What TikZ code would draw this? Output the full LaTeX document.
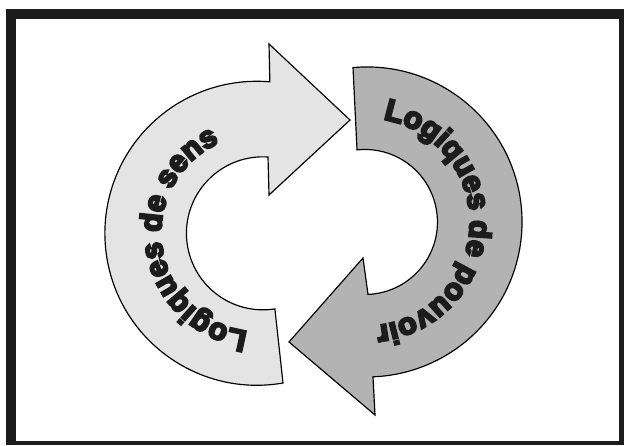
\documentclass[tikz,border=0pt]{standalone}
\usepackage{fontspec}
\newfontfamily\wordart{Liberation Sans}[BoldFeatures={FakeBold=7}]
\usepackage{tikz}
\usetikzlibrary{decorations.text}
\definecolor{frameink}{HTML}{1C1C1C}
\definecolor{sensfill}{HTML}{E4E4E4}
\definecolor{pouvoirfill}{HTML}{B3B3B3}

\begin{document}
\begin{tikzpicture}[x=0.03cm,y=0.03cm,
  arrowband/.style={draw=black,line width=1pt,line join=miter},
  bandtext/.style={decorate,decoration={text along path,
    text align=center,text color=frameink,
    text={|\wordart\bfseries\fontsize{26}{26}\selectfont|#1}}}]

  \useasboundingbox (0,0) rectangle (624,445);

  % frame
  \fill[frameink] (6,0) rectangle (624,436);
  \fill[white] (16,4) rectangle (619,426);

  % left arrow, pointing right at the top
  \draw[arrowband,fill=sensfill] (283,62)
    arc[start angle=279.9,end angle=85.1,radius=152]
    -- (269,401) -- (350,325) -- (269,250) -- (268,288)
    arc[start angle=86.2,end angle=279,radius=76.5] -- cycle;

  % right arrow, pointing left at the bottom
  \draw[arrowband,fill=pouvoirfill] (353,377.4)
    arc[start angle=95.2,end angle=-87.8,radius=155]
    -- (375,30) -- (289,103) -- (363,187) -- (368,150.6)
    arc[start angle=-87.6,end angle=96.3,radius=72.5] -- cycle;

  % curved labels
  \path[bandtext={Logiques de sens}] (258.3,113)
    arc[start angle=269,end angle=108,radius=99];
  \path[bandtext={Logiques de pouvoir}] (369.5,326.9)
    arc[start angle=88,end angle=-92,radius=104];

\end{tikzpicture}
\end{document}
